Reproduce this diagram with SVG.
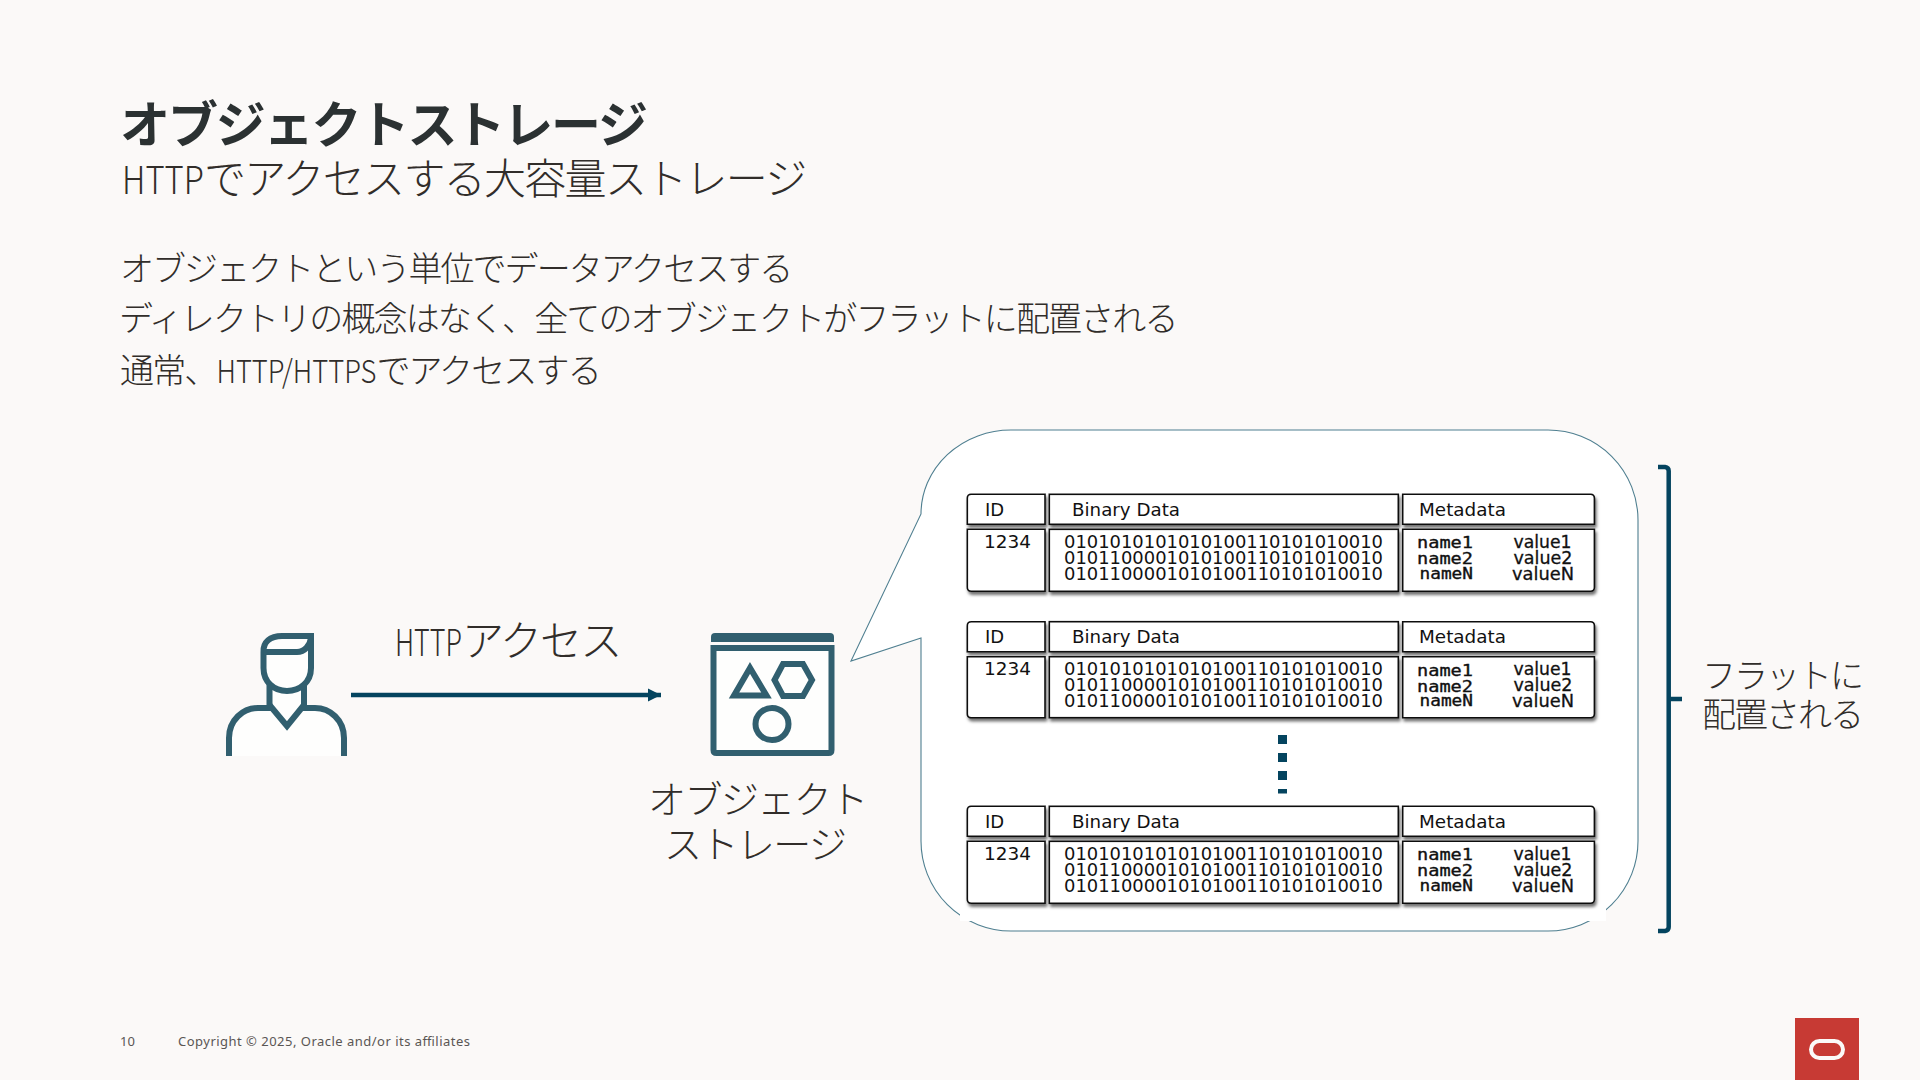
<svg xmlns="http://www.w3.org/2000/svg" width="1920" height="1080" viewBox="0 0 1920 1080">
<defs>
<style>
text{font-family:"Noto Sans CJK JP","Noto Sans",sans-serif;fill:#312d2a;font-weight:300}
.ti{font-size:50px;font-weight:700;fill:#2b3132;letter-spacing:-2.1px}
.st{font-size:42px;letter-spacing:-1.7px}
.b{font-size:34px;letter-spacing:-1.85px}
.l{font-size:38px;letter-spacing:-1.55px}
.lb{font-size:42px;letter-spacing:-1.9px}
.br-t{font-size:34px;letter-spacing:-2px}
.lat{letter-spacing:0}
.ft{font-family:"Noto Sans",sans-serif;font-size:13px;fill:#5a5654;font-weight:400}
.ico{fill:none;stroke:#315f6f;stroke-width:6}
.w{fill:#fefefd}
.cell{fill:#fff;stroke:#111;stroke-width:1.6}
.hd{font-family:"DejaVu Sans",sans-serif;font-size:18px;fill:#111;font-weight:400}
.nm{font-family:"DejaVu Sans Mono",monospace;font-size:15.5px;fill:#111;font-weight:400;stroke:#111;stroke-width:.35}
.val{font-family:"DejaVu Sans",sans-serif;font-size:17.5px;fill:#111;font-weight:400;stroke:#111;stroke-width:.3}
.br{fill:none;stroke:#04445f;stroke-width:4.5}
</style>
<filter id="sh" x="-5%" y="-10%" width="110%" height="125%"><feDropShadow dx="1.5" dy="3" stdDeviation="1.8" flood-color="#000" flood-opacity=".55"/></filter>
<marker id="ah" markerUnits="userSpaceOnUse" markerWidth="14" markerHeight="14" refX="13" refY="7" orient="auto"><path d="M0 0.5L13 7L0 13.5z" fill="#04445f"/></marker>
</defs>
<rect width="1920" height="1080" fill="#fbf9f8"/>
<g id="title">
<text class="ti" x="120" y="143">オブジェクトストレージ</text>
<text class="st" x="122" y="194"><tspan class="lat" font-size="38" textLength="82" lengthAdjust="spacingAndGlyphs">HTTP</tspan>でアクセスする大容量ストレージ</text>
</g>
<g id="body">
<text class="b" x="120" y="281" style="letter-spacing:-1.95px">オブジェクトという単位でデータアクセスする</text>
<text class="b" x="119" y="331" style="letter-spacing:-1.88px">ディレクトリの概念はなく、全てのオブジェクトがフラットに配置される</text>
<text class="b" x="120" y="383">通常、<tspan class="lat" font-size="32" textLength="160" lengthAdjust="spacingAndGlyphs">HTTP/HTTPS</tspan>でアクセスする</text>
</g>
<g id="connectors">
<line x1="351" y1="695" x2="661" y2="695" stroke="#04445f" stroke-width="4.500" marker-end="url(#ah)"/>
</g>
<text class="lb" x="395" y="656"><tspan class="lat" font-size="37" textLength="67" lengthAdjust="spacingAndGlyphs">HTTP</tspan>アクセス</text>
<g id="user">
<path class="ico w" d="M229 756V738C229 720 243 708 258 708H269.500V685H304V708H315C330 708 344 720 344 738V756"/>
<path class="ico" d="M269.500 705L287 726L304 705"/>
<path class="ico w" d="M263.500 652C263 642 270 636 282 636H311V654V668C311 682 300 691 287 691C274 691 263.500 682 263.500 668Z"/>
<path class="ico" d="M263.500 652H297C305 652 310 645 311 638"/>
</g>
<g id="object-storage">
<path d="M711 642V637Q711 633 715 633H830Q834 633 834 637V642Z" fill="#315f6f"/>
<path class="ico w" d="M713.500 648H831.500V750Q831.500 753 828.500 753H716.500Q713.500 753 713.500 750Z"/>
<path class="ico" d="M750 668L734 695.500H766.500Z"/>
<path class="ico" d="M783 664H803L812 680L803 696H783L774.500 680Z"/>
<ellipse class="ico" cx="772" cy="724" rx="16.500" ry="16"/>
<text class="l" x="648" y="813">オブジェクト</text>
<text class="l" x="664" y="858">ストレージ</text>
</g>
<g id="bubble">
<path d="M1011 430H1548A90 90 0 0 1 1638 520V841A90 90 0 0 1 1548 931H1011A90 90 0 0 1 921 841V638L851 661L921 514A90 84 0 0 1 1011 430Z" fill="#fff" stroke="#4f7f90" stroke-width="1.100"/>
<rect x="960" y="480" width="646" height="441" fill="#fff"/>
</g>
<g id="row-1" transform="translate(0,494.300)">
<g filter="url(#sh)">
<path class="cell" d="M967.300 30V4Q967.300 0 971.300 0H1045V30Z"/><rect class="cell" x="1049.300" width="349" height="30"/><path class="cell" d="M1402.700 0H1590.400Q1594.400 0 1594.400 4V30H1402.700Z"/>
<path class="cell" d="M967.300 35H1045V97H971.300Q967.300 97 967.300 93Z"/><rect class="cell" x="1049.300" y="35" width="349" height="62"/><path class="cell" d="M1402.700 35H1594.400V93Q1594.400 97 1590.400 97H1402.700Z"/>
</g>
<text class="hd" x="985" y="21.500">ID</text><text class="hd" x="1072" y="21.500" textLength="108" lengthAdjust="spacingAndGlyphs">Binary Data</text><text class="hd" x="1419" y="21.500" textLength="87" lengthAdjust="spacingAndGlyphs">Metadata</text>
<text class="hd" x="984" y="54" textLength="47" lengthAdjust="spacingAndGlyphs">1234</text>
<text class="hd"><tspan x="1064" y="54" textLength="319" lengthAdjust="spacingAndGlyphs">0101010101010100110101010010</tspan><tspan x="1064" y="70" textLength="319" lengthAdjust="spacingAndGlyphs">0101100001010100110101010010</tspan><tspan x="1064" y="86" textLength="319" lengthAdjust="spacingAndGlyphs">0101100001010100110101010010</tspan></text>
<text class="nm"><tspan x="1417" y="54" textLength="56" lengthAdjust="spacingAndGlyphs">name1</tspan><tspan x="1417" y="70" textLength="56" lengthAdjust="spacingAndGlyphs">name2</tspan><tspan x="1419.500" y="85" textLength="53.500" lengthAdjust="spacingAndGlyphs">nameN</tspan></text>
<text class="val"><tspan x="1513.500" y="54" textLength="58" lengthAdjust="spacingAndGlyphs">value1</tspan><tspan x="1513.500" y="70" textLength="59" lengthAdjust="spacingAndGlyphs">value2</tspan><tspan x="1512" y="86" textLength="62" lengthAdjust="spacingAndGlyphs">valueN</tspan></text>
</g>
<g id="row-2" transform="translate(0,621.700)">
<g filter="url(#sh)">
<path class="cell" d="M967.300 30V4Q967.300 0 971.300 0H1045V30Z"/><rect class="cell" x="1049.300" width="349" height="30"/><path class="cell" d="M1402.700 0H1590.400Q1594.400 0 1594.400 4V30H1402.700Z"/>
<path class="cell" d="M967.300 35H1045V96H971.300Q967.300 96 967.300 92Z"/><rect class="cell" x="1049.300" y="35" width="349" height="61"/><path class="cell" d="M1402.700 35H1594.400V92Q1594.400 96 1590.400 96H1402.700Z"/>
</g>
<text class="hd" x="985" y="21.500">ID</text><text class="hd" x="1072" y="21.500" textLength="108" lengthAdjust="spacingAndGlyphs">Binary Data</text><text class="hd" x="1419" y="21.500" textLength="87" lengthAdjust="spacingAndGlyphs">Metadata</text>
<text class="hd" x="984" y="53.500" textLength="47" lengthAdjust="spacingAndGlyphs">1234</text>
<text class="hd"><tspan x="1064" y="53.500" textLength="319" lengthAdjust="spacingAndGlyphs">0101010101010100110101010010</tspan><tspan x="1064" y="69.500" textLength="319" lengthAdjust="spacingAndGlyphs">0101100001010100110101010010</tspan><tspan x="1064" y="85" textLength="319" lengthAdjust="spacingAndGlyphs">0101100001010100110101010010</tspan></text>
<text class="nm"><tspan x="1417" y="54" textLength="56" lengthAdjust="spacingAndGlyphs">name1</tspan><tspan x="1417" y="70" textLength="56" lengthAdjust="spacingAndGlyphs">name2</tspan><tspan x="1419.500" y="84" textLength="53.500" lengthAdjust="spacingAndGlyphs">nameN</tspan></text>
<text class="val"><tspan x="1513.500" y="53.500" textLength="58" lengthAdjust="spacingAndGlyphs">value1</tspan><tspan x="1513.500" y="69.500" textLength="59" lengthAdjust="spacingAndGlyphs">value2</tspan><tspan x="1512" y="85" textLength="62" lengthAdjust="spacingAndGlyphs">valueN</tspan></text>
</g>
<g id="ellipsis"><line x1="1282.500" y1="735" x2="1282.500" y2="793.500" stroke="#04445f" stroke-width="9" stroke-dasharray="9 9"/></g>
<g id="row-3" transform="translate(0,806.300)">
<g filter="url(#sh)">
<path class="cell" d="M967.300 30V4Q967.300 0 971.300 0H1045V30Z"/><rect class="cell" x="1049.300" width="349" height="30"/><path class="cell" d="M1402.700 0H1590.400Q1594.400 0 1594.400 4V30H1402.700Z"/>
<path class="cell" d="M967.300 35H1045V97H971.300Q967.300 97 967.300 93Z"/><rect class="cell" x="1049.300" y="35" width="349" height="62"/><path class="cell" d="M1402.700 35H1594.400V93Q1594.400 97 1590.400 97H1402.700Z"/>
</g>
<text class="hd" x="985" y="21.500">ID</text><text class="hd" x="1072" y="21.500" textLength="108" lengthAdjust="spacingAndGlyphs">Binary Data</text><text class="hd" x="1419" y="21.500" textLength="87" lengthAdjust="spacingAndGlyphs">Metadata</text>
<text class="hd" x="984" y="53.500" textLength="47" lengthAdjust="spacingAndGlyphs">1234</text>
<text class="hd"><tspan x="1064" y="53.500" textLength="319" lengthAdjust="spacingAndGlyphs">0101010101010100110101010010</tspan><tspan x="1064" y="69.500" textLength="319" lengthAdjust="spacingAndGlyphs">0101100001010100110101010010</tspan><tspan x="1064" y="85.500" textLength="319" lengthAdjust="spacingAndGlyphs">0101100001010100110101010010</tspan></text>
<text class="nm"><tspan x="1417" y="54" textLength="56" lengthAdjust="spacingAndGlyphs">name1</tspan><tspan x="1417" y="70" textLength="56" lengthAdjust="spacingAndGlyphs">name2</tspan><tspan x="1419.500" y="85" textLength="53.500" lengthAdjust="spacingAndGlyphs">nameN</tspan></text>
<text class="val"><tspan x="1513.500" y="53.500" textLength="58" lengthAdjust="spacingAndGlyphs">value1</tspan><tspan x="1513.500" y="69.500" textLength="59" lengthAdjust="spacingAndGlyphs">value2</tspan><tspan x="1512" y="85.500" textLength="62" lengthAdjust="spacingAndGlyphs">valueN</tspan></text>
</g>
<g id="bracket">
<path class="br" d="M1658 467H1665Q1668.700 467.500 1668.700 471V927Q1668.700 930.500 1665 931H1658"/>
<path class="br" d="M1669 699H1682" stroke-width="3.500"/>
<text class="br-t" x="1702" y="688">フラットに</text>
<text class="br-t" x="1702" y="727">配置される</text>
</g>
<g id="footer">
<text class="ft" x="120" y="1046" textLength="15" lengthAdjust="spacing">10</text>
<text class="ft" x="178" y="1046" textLength="292" lengthAdjust="spacing">Copyright © 2025, Oracle and/or its affiliates</text>
</g>
<g id="logo">
<rect x="1795" y="1018" width="64" height="62" fill="#c73a34"/>
<rect x="1811" y="1041" width="32" height="17" rx="8.500" fill="none" stroke="#fbf9f8" stroke-width="4"/>
</g>
</svg>
